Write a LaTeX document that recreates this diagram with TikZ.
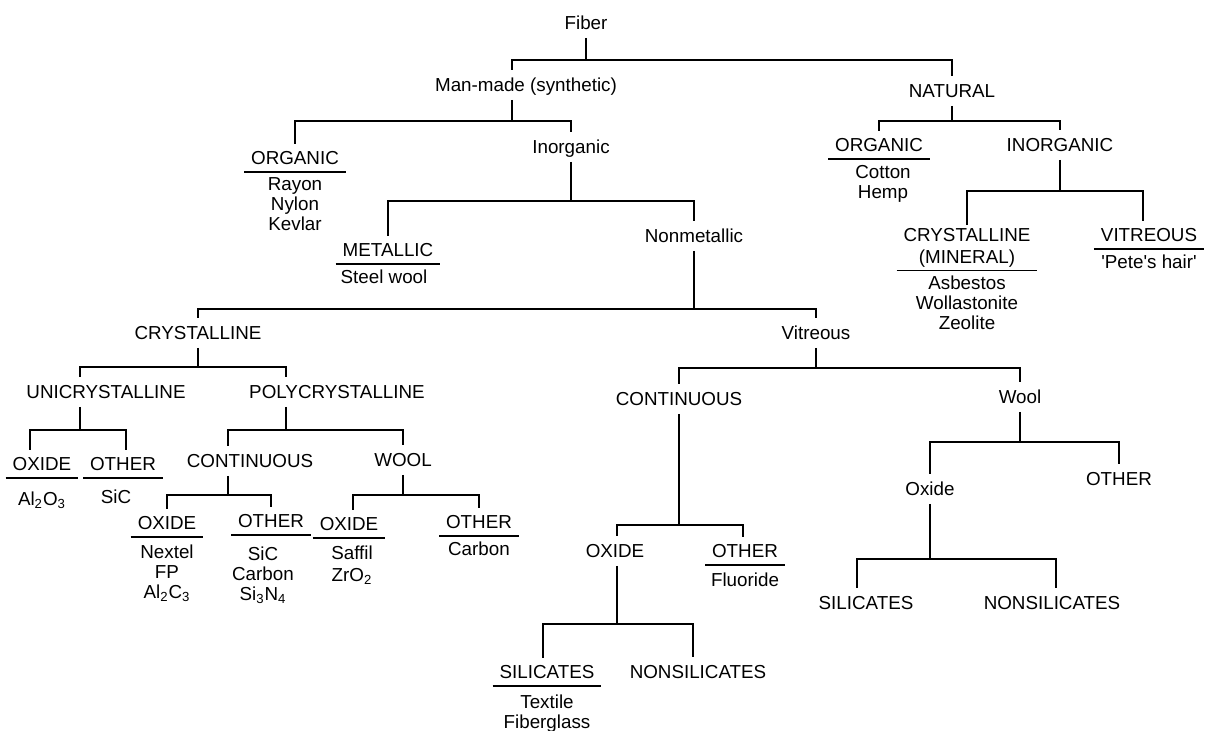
\documentclass[tikz,border=0pt]{standalone}
\usepackage{fontspec}
\setmainfont{Liberation Sans}
\usetikzlibrary{positioning}

\begin{document}
\begin{tikzpicture}[x=0.5pt, y=-0.5pt, line width=1.1pt,
    main/.style = {font=\fontsize{9.4}{10}\selectfont, inner sep=3.5pt, text height=6.8pt, text depth=0pt},
    hdr/.style = {font=\fontsize{9.4}{10}\selectfont, inner xsep=3pt, inner ysep=3pt,
        append after command={(\tikzlastnode.south west) edge[line width=0.7pt] (\tikzlastnode.south east)}},
    cat/.style = {hdr, text height=6.8pt, text depth=0pt},
    items/.style = {font=\fontsize{9.4}{10}\selectfont, align=center, inner xsep=3.5pt, inner ysep=2.5pt}]
    \useasboundingbox (0,0) rectangle (1205,731);
    \node[main] (fiber) at (586,23) {Fiber};
    \node[main] (man) at (526,85) {Man-made (synthetic)};
    \node[main] (nat) at (952,91) {NATURAL};
    \node[cat] (org1) at (295,158) {ORGANIC};
    \node[items] (org1l) [below=0pt of org1] {Rayon\\Nylon\\Kevlar};
    \node[main] (inorg1) at (571,147) {Inorganic};
    \node[cat] (metal) at (388,250) {METALLIC};
    \node[items] (metall) [below=0pt of metal, xshift=-2pt] {Steel wool};
    \node[main] (nonmet) at (694,236) {Nonmetallic};
    \node[cat] (org2) at (879,145) {ORGANIC};
    \node[items] (org2l) [below=0pt of org2, xshift=2pt] {Cotton\\Hemp};
    \node[main] (inorg2) at (1060,145) {INORGANIC};
    \node[hdr, align=center, anchor=north, inner ysep=1pt] (cmin) at (967,225) {CRYSTALLINE\\[1pt](MINERAL)};
    \node[items] (cminl) [below=0pt of cmin] {Asbestos\\Wollastonite\\Zeolite};
    \node[cat] (vit1) at (1149,235) {VITREOUS};
    \node[items] (vit1l) [below=0pt of vit1] {\textquotesingle Pete\textquotesingle s hair\textquotesingle};
    \node[main] (cryst) at (198,333) {CRYSTALLINE};
    \node[main] (vit2) at (816,333) {Vitreous};
    \node[main] (uni) at (106,392) {UNICRYSTALLINE};
    \node[main] (poly) at (337,392) {POLYCRYSTALLINE};
    \node[cat] (ox1) at (42,464) {OXIDE};
    \node[items] (ox1l) [below=0pt of ox1, yshift=-4pt] {Al\textsubscript{2}O\textsubscript{3}};
    \node[cat] (oth1) at (123,464) {OTHER};
    \node[items] (oth1l) [below=0pt of oth1, xshift=-3.5pt, yshift=-3pt] {SiC};
    \node[main] (cont1) at (250,461) {CONTINUOUS};
    \node[main] (wool1) at (403,460) {WOOL};
    \node[cat] (ox2) at (167,523) {OXIDE};
    \node[items] (ox2l) [below=0pt of ox2, yshift=-1pt] {Nextel\\FP\\Al\textsubscript{2}C\textsubscript{3}};
    \node[cat] (oth2) at (271,521) {OTHER};
    \node[items] (oth2l) [below=0pt of oth2, xshift=-4pt, yshift=-3pt] {SiC\\Carbon\\Si\textsubscript{3}N\textsubscript{4}};
    \node[cat] (ox3) at (349,524) {OXIDE};
    \node[items] (ox3l) [below=0pt of ox3, xshift=1.5pt, yshift=-1pt] {Saffil\\[1pt]ZrO\textsubscript{2}};
    \node[cat] (oth3) at (479,522) {OTHER};
    \node[items] (oth3l) [below=0pt of oth3] {Carbon};
    \node[main] (cont2) at (679,399) {CONTINUOUS};
    \node[main] (wool2) at (1020,397) {Wool};
    \node[main] (ox4) at (615,551) {OXIDE};
    \node[cat] (oth4) at (745,551) {OTHER};
    \node[items] (oth4l) [below=0pt of oth4, yshift=-1pt] {Fluoride};
    \node[cat] (sil1) at (547,672) {SILICATES};
    \node[items] (sil1l) [below=0pt of sil1, yshift=-1.5pt] {Textile\\Fiberglass};
    \node[main] (nonsil1) at (698,672) {NONSILICATES};
    \node[main] (ox5) at (930,489) {Oxide};
    \node[main] (oth5) at (1119,479) {OTHER};
    \node[main] (sil2) at (866,603) {SILICATES};
    \node[main] (nonsil2) at (1052,603) {NONSILICATES};
    \draw (fiber.south) -- ++(0,22.25) -| ([xshift=-7pt]man.north);
    \draw (fiber.south) ++(0,22.25) -| (nat.north);
    \draw ([xshift=-7pt]man.south) -- ++(0,21.25) -| (org1.north);
    \draw ([xshift=-7pt]man.south) ++(0,21.25) -| (inorg1.north);
    \draw (nat.south) -- ++(0,15.25) -| (org2.north);
    \draw (nat.south) ++(0,15.25) -| (inorg2.north);
    \draw (inorg1.south) -- ++(0,39.25) -| (metal.north);
    \draw (inorg1.south) ++(0,39.25) -| (nonmet.north);
    \draw (inorg2.south) -- ++(0,31.25) -| (cmin.north);
    \draw (inorg2.south) ++(0,31.25) -| ([xshift=-3pt]vit1.north);
    \draw (nonmet.south) -- ++(0,58.25) -| (cryst.north);
    \draw (nonmet.south) ++(0,58.25) -| (vit2.north);
    \draw (cryst.south) -- ++(0,19.25) -| ([xshift=-13pt]uni.north);
    \draw (cryst.south) ++(0,19.25) -| ([xshift=-25.5pt]poly.north);
    \draw (vit2.south) -- ++(0,20.25) -| (cont2.north);
    \draw (vit2.south) ++(0,20.25) -| (wool2.north);
    \draw ([xshift=-13pt]uni.south) -- ++(0,23.25) -| ([xshift=-6pt]ox1.north);
    \draw ([xshift=-13pt]uni.south) ++(0,23.25) -| ([xshift=1.5pt]oth1.north);
    \draw ([xshift=-25.5pt]poly.south) -- ++(0,23.25) -| ([xshift=-11pt]cont1.north);
    \draw ([xshift=-25.5pt]poly.south) ++(0,23.25) -| (wool1.north);
    \draw ([xshift=-11pt]cont1.south) -- ++(0,19.25) -| (ox2.north);
    \draw ([xshift=-11pt]cont1.south) ++(0,19.25) -| (oth2.north);
    \draw (wool1.south) -- ++(0,20.25) -| ([xshift=2pt]ox3.north);
    \draw (wool1.south) ++(0,20.25) -| (oth3.north);
    \draw (cont2.south) -- ++(0,111.25) -| ([xshift=1pt]ox4.north);
    \draw (cont2.south) ++(0,111.25) -| ([xshift=-1pt]oth4.north);
    \draw (wool2.south) -- ++(0,30.25) -| (ox5.north);
    \draw (wool2.south) ++(0,30.25) -| (oth5.north);
    \draw ([xshift=1pt]ox4.south) -- ++(0,58.25) -| ([xshift=-2pt]sil1.north);
    \draw ([xshift=1pt]ox4.south) ++(0,58.25) -| ([xshift=-2.5pt]nonsil1.north);
    \draw (ox5.south) -- ++(0,55.25) -| ([xshift=-4.5pt]sil2.north);
    \draw (ox5.south) ++(0,55.25) -| ([xshift=2pt]nonsil2.north);
\end{tikzpicture}
\end{document}
